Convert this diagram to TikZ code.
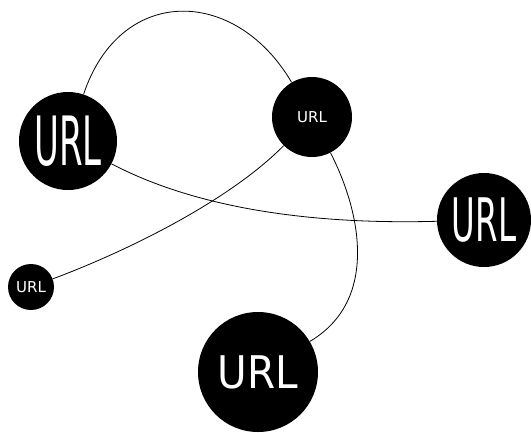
\documentclass[tikz,border=0pt]{standalone}
\usepackage{fontspec}
\usepackage{graphicx}
\setmainfont{DejaVu Sans}
\usetikzlibrary{
  arrows.meta,
  positioning,
  calc
}
\definecolor{urlFill}{HTML}{000000}
\definecolor{urlText}{HTML}{FFFFFF}
\newcommand{\urlsize}[1]{\fontsize{#1}{#1}\selectfont}
\tikzset{
  urlnode/.style={
    circle, fill=urlFill, text=urlText, inner sep=0pt, align=center
  },
  urlsmall/.style={urlnode, font=\urlsize{15}},
  urllarge/.style={urlnode, font=\urlsize{45}},
  link/.style={line width=0.8pt, black}
}

\begin{document}
\begin{tikzpicture}[x=1pt, y=-1pt]
  \useasboundingbox (0,0) rectangle (531,432);
  % pages
  \node[urlnode, minimum size=98pt, font=\urlsize{68}] (left) at (68,141) {\scalebox{0.5}[1]{URL}};
  \node[urlsmall, minimum size=80pt] (top) at (312,117) {URL};
  \node[urlnode, minimum size=94pt, font=\urlsize{60}] (right) at (484,220) {\scalebox{0.54}[1]{URL}};
  \node[urlsmall, minimum size=46pt] (small) at (31,287) {URL};
  \node[urllarge, minimum size=120pt] (bottom) at (258,372) {\scalebox{0.9}[1]{URL}};
  % links
  \draw[link] (left) .. controls (120,-15) and (235,-14) .. (top);
  \draw[link] (left) .. controls (190,205) and (300,225) .. (right);
  \draw[link] (small) .. controls (130,250) and (230,200) .. (top);
  \draw[link] (top) .. controls (360,210) and (380,300) .. (bottom);
\end{tikzpicture}
\end{document}
